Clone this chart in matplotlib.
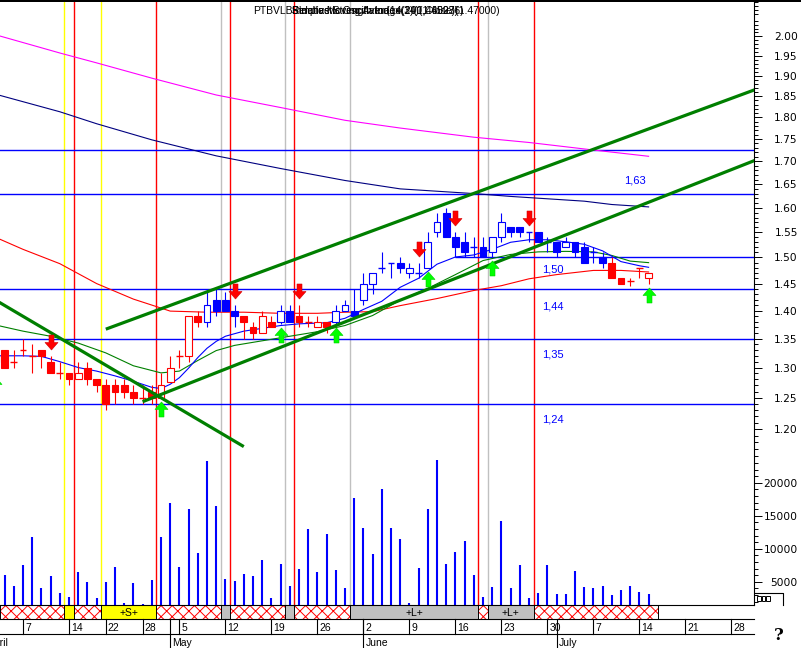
import numpy as np
import matplotlib
matplotlib.use("Agg")
import matplotlib.pyplot as plt
from matplotlib.patches import Rectangle
from matplotlib.path import Path
from matplotlib.lines import Line2D
from matplotlib import transforms as mtrans
from matplotlib.ticker import FixedLocator, FuncFormatter, NullFormatter

plt.rcParams['font.family'] = ['Liberation Sans', 'DejaVu Sans']
plt.rcParams['hatch.linewidth'] = 0.7

# ---------------------------------------------------------------- data
day_index = list(range(-3, 69))
opens = [1.32, 1.33, 1.31, 1.33, 1.32, 1.33, 1.31, 1.29, 1.29, 1.28, 1.30, 1.28,
         1.27, 1.27, 1.27, 1.26, 1.25, 1.26, 1.25, 1.275, 1.32, 1.32, 1.39, 1.38,
         1.42, 1.42, 1.40, 1.39, 1.37, 1.36, 1.38, 1.38, 1.40, 1.39, 1.38, 1.37,
         1.38, 1.38, 1.40, 1.40, 1.42, 1.45, 1.48, 1.49, 1.49, 1.47, 1.47, 1.48,
         1.55, 1.59, 1.54, 1.53, 1.52, 1.52, 1.51, 1.54, 1.56, 1.56, 1.55, 1.55,
         1.53, 1.53, 1.52, 1.53, 1.52, 1.51, 1.50, 1.49, 1.46, 1.455, 1.48, 1.46]
highs = [1.33, 1.33, 1.33, 1.35, 1.34, 1.33, 1.32, 1.31, 1.29, 1.31, 1.31, 1.28,
         1.28, 1.28, 1.28, 1.27, 1.27, 1.27, 1.29, 1.32, 1.33, 1.39, 1.40, 1.44,
         1.44, 1.435, 1.41, 1.39, 1.38, 1.40, 1.39, 1.41, 1.41, 1.41, 1.39, 1.39,
         1.38, 1.41, 1.42, 1.44, 1.47, 1.47, 1.51, 1.49, 1.50, 1.49, 1.49, 1.55,
         1.59, 1.60, 1.55, 1.55, 1.54, 1.54, 1.54, 1.59, 1.56, 1.56, 1.55, 1.55,
         1.54, 1.53, 1.54, 1.53, 1.53, 1.52, 1.51, 1.50, 1.46, 1.46, 1.48, 1.47]
lows = [1.29, 1.30, 1.30, 1.32, 1.29, 1.30, 1.29, 1.28, 1.27, 1.28, 1.27, 1.26,
        1.23, 1.24, 1.25, 1.24, 1.24, 1.24, 1.25, 1.275, 1.30, 1.31, 1.37, 1.37,
        1.39, 1.40, 1.37, 1.35, 1.35, 1.36, 1.37, 1.375, 1.38, 1.37, 1.37, 1.37,
        1.36, 1.375, 1.40, 1.39, 1.41, 1.43, 1.47, 1.46, 1.47, 1.46, 1.46, 1.48,
        1.54, 1.54, 1.50, 1.50, 1.50, 1.50, 1.50, 1.53, 1.54, 1.54, 1.53, 1.53,
        1.51, 1.50, 1.52, 1.50, 1.49, 1.49, 1.48, 1.46, 1.45, 1.445, 1.46, 1.45]
closes = [1.31, 1.30, 1.31, 1.33, 1.32, 1.32, 1.29, 1.29, 1.28, 1.29, 1.28, 1.27,
          1.24, 1.26, 1.26, 1.25, 1.25, 1.25, 1.27, 1.30, 1.32, 1.39, 1.38, 1.41,
          1.40, 1.40, 1.39, 1.38, 1.36, 1.39, 1.37, 1.40, 1.38, 1.38, 1.38, 1.38,
          1.37, 1.40, 1.41, 1.39, 1.45, 1.47, 1.48, 1.49, 1.48, 1.48, 1.47, 1.53,
          1.57, 1.54, 1.52, 1.51, 1.52, 1.50, 1.54, 1.57, 1.55, 1.55, 1.55, 1.53,
          1.53, 1.51, 1.53, 1.51, 1.49, 1.51, 1.49, 1.46, 1.45, 1.455, 1.48, 1.47]
candle_side = (['r'] * 23 + ['b'] * 4 + ['r'] * 4 + ['b'] * 2 + ['r'] * 4 +
               ['b'] * 30 + ['r'] * 5)
volumes = [5000, 6000, 4400, 7500, 11800, 4100, 5800, 3300, 2700, 6500, 5000, 2600,
           5000, 7200, 1800, 4800, 1600, 5200, 11700, 16900, 7200, 16000, 9400, 23300,
           16500, 5400, 5100, 6100, 5900, 8300, 2600, 7700, 4400, 7000, 13000, 6500,
           12200, 6800, 4100, 17700, 13200, 9200, 19000, 13200, 11400, 1700, 7100, 16000,
           23400, 7700, 9500, 11200, 6000, 2700, 4200, 14200, 4000, 7500, 2500, 3300,
           7500, 3200, 3200, 6600, 4200, 4000, 4300, 3000, 3700, 4300, 3400, 3100]

ma_magenta_idx = [-3, 4, 8, 14, 21, 28, 35, 41, 49, 55, 62, 68]
ma_magenta = [2.004, 1.957, 1.932, 1.894, 1.853, 1.823, 1.793, 1.775, 1.754, 1.742, 1.725, 1.711]
ma_navy_idx = [-3, 4, 8, 14, 21, 28, 35, 41, 45, 49, 53, 57, 61, 64, 68]
ma_navy = [1.855, 1.813, 1.785, 1.748, 1.712, 1.684, 1.658, 1.640, 1.635, 1.630, 1.624,
           1.619, 1.614, 1.607, 1.602]
ma_red_idx = [-3, 0, 4, 8, 12, 14, 16, 20, 24, 28, 32, 35, 38, 41, 45, 49, 52, 55, 58, 62, 65, 68]
ma_red = [1.540, 1.516, 1.488, 1.450, 1.421, 1.410, 1.399, 1.397, 1.397, 1.395, 1.395,
          1.397, 1.398, 1.409, 1.422, 1.437, 1.446, 1.459, 1.467, 1.475, 1.475, 1.472]
ma_blue_idx = [-3, 0, 2, 4, 6, 8, 10, 12, 14, 15, 16, 17, 18, 19, 20, 21, 22, 24, 26, 28,
               30, 33, 35, 37, 39, 41, 43, 45, 47, 49, 51, 53, 55, 57, 59, 61, 63, 65, 67, 68]
ma_blue = [1.320, 1.320, 1.319, 1.310, 1.300, 1.294, 1.286, 1.277, 1.267, 1.265, 1.272,
           1.283, 1.299, 1.317, 1.333, 1.345, 1.354, 1.363, 1.368, 1.373, 1.376, 1.378,
           1.386, 1.402, 1.417, 1.443, 1.460, 1.487, 1.501, 1.505, 1.516, 1.530, 1.535,
           1.535, 1.531, 1.526, 1.513, 1.492, 1.484, 1.481]
ma_green_idx = [-3, 0, 3, 6, 9, 12, 15, 17, 19, 21, 23, 26, 29, 32, 35, 38, 41, 44, 47,
                50, 53, 56, 59, 62, 64, 66, 68]
ma_green = [1.374, 1.363, 1.354, 1.342, 1.325, 1.303, 1.291, 1.294, 1.312, 1.329, 1.338,
            1.346, 1.354, 1.362, 1.373, 1.391, 1.419, 1.441, 1.467, 1.494, 1.506, 1.511,
            1.512, 1.511, 1.504, 1.493, 1.490]

trend_down_idx = [-3, 24]
trend_down = [1.4193, 1.1730]
trend_up_hi_idx = [9, 80]
trend_up_hi = [1.3665, 1.8694]
trend_up_lo_idx = [13, 80]
trend_up_lo = [1.2435, 1.7055]

levels = [1.725, 1.63, 1.50, 1.44, 1.35, 1.24]
level_start = [-3, -3, 47, -3, -3, -3]
level_labels = ['', '1,63', '1,50', '1,44', '1,35', '1,24']

sell_idx = [3, 23, 30, 43, 47, 55]
buy_idx = [-3, 15, 28, 34, 44, 51, 68]

yellow_lines = [4.5, 8.5]
red_lines = [5.5, 14.5, 22.5, 29.5, 49.5, 55.5]
gray_lines = [21.5, 28.5, 35.5, 50.5]

band_start = [-3, 4.5, 5.5, 8.5, 14.5, 21.5, 22.5, 28.5, 29.5, 35.5, 49.5, 50.5, 55.5]
band_end = [4.5, 5.5, 8.5, 14.5, 21.5, 22.5, 28.5, 29.5, 35.5, 49.5, 50.5, 55.5, 69]
band_kind = ['h', 'y', 'h', 'y', 'h', 'g', 'h', 'g', 'h', 'g', 'h', 'g', 'h']
band_text = ['', '', '', '+S+', '', '', '', '', '', '+L+', '', '+L+', '']

week_idx = [0, 5, 9, 13, 17, 22, 27, 32, 37, 42, 47, 52, 57, 62, 67, 72, 77]
week_labels = ['7', '14', '22', '28', '5', '12', '19', '26', '2', '9', '16', '23',
               '30', '7', '14', '21', '28']
month_idx = [-4, 16, 37, 58]
month_labels = ['April', 'May', 'June', 'July']

price_major = [1.20, 1.25, 1.30, 1.35, 1.40, 1.45, 1.50, 1.55, 1.60, 1.65, 1.70,
               1.75, 1.80, 1.85, 1.90, 1.95, 2.00]
vol_major = [5000, 10000, 15000, 20000]

title_main = 'PTBVLB3'
title_overlays = ['Relative Strength Index(14)(1.45936)',
                  'Stochastic Oscillator(14,3)(1,46027)',
                  'Simple Moving Average(200,Close)(1.47000)']

# ---------------------------------------------------------------- layout
W, H = 801, 648
fig = plt.figure(figsize=(W / 100, H / 100), dpi=100)
fig.patch.set_facecolor('white')
PX = mtrans.Affine2D().scale(1, -1).translate(0, H)


def frac(x0, y0, x1, y1):
    return [x0 / W, 1 - y1 / H, (x1 - x0) / W, (y1 - y0) / H]


X0, XD = 23.0, 9.2
AL, AR, AT, AB = 0, 754, 2, 605
xlim = ((AL - X0) / XD, (AR - X0) / XD)

RED, BLUE = '#FF0000', '#0000FF'

# volume axes (bottom layer)
axv = fig.add_axes(frac(AL, AT, AR, AB))
axv.set_xlim(xlim)
VZ, VS = 614.7, 0.0066
vlo = (VZ - AB) / VS
axv.set_ylim(vlo, (VZ - AT) / VS)
for s in axv.spines.values():
    s.set_visible(False)
axv.tick_params(axis='x', which='both', bottom=False, labelbottom=False)
axv.yaxis.tick_right()
axv.yaxis.set_major_locator(FixedLocator(vol_major))
axv.yaxis.set_minor_locator(FixedLocator([v for v in range(2000, 24001, 1000) if v not in vol_major]))
axv.yaxis.set_major_formatter(FuncFormatter(lambda v, p: '%d' % v))
axv.yaxis.set_minor_formatter(NullFormatter())
axv.tick_params(axis='y', which='major', length=5.5, width=0.7, pad=26, labelsize=7.7,
                direction='out')
axv.tick_params(axis='y', which='minor', length=3, width=0.7, direction='out')
for lab in axv.get_yticklabels():
    lab.set_horizontalalignment('right')
    lab.set_fontfamily('DejaVu Sans')

for x in yellow_lines:
    axv.axvline(x, color='#FFFF00', lw=1.0, zorder=1)
for x in red_lines:
    axv.axvline(x, color=RED, lw=1.0, zorder=1)
for x in gray_lines:
    axv.axvline(x, color='#C0C0C0', lw=1.0, zorder=1)

axv.vlines(day_index, vlo, volumes, colors=BLUE, lw=1.5, zorder=2)

# price axes (on top)
ax = fig.add_axes(frac(AL, AT, AR, AB), sharex=axv)
ax.patch.set_alpha(0)
ax.set_yscale('log')
Y0, PPL = 569.3, 769.0
ax.set_ylim(np.exp((Y0 - AB) / PPL), np.exp((Y0 - AT) / PPL))
ax.set_xlim(xlim)
for k, s in ax.spines.items():
    s.set_visible(k == 'right')
ax.spines['right'].set_linewidth(0.8)
ax.tick_params(axis='x', which='both', bottom=False, labelbottom=False)
ax.yaxis.tick_right()
ax.yaxis.set_major_locator(FixedLocator(price_major))
pmin = [round(v, 2) for v in np.arange(1.17, 2.095, 0.01)]
ax.yaxis.set_minor_locator(FixedLocator([v for v in pmin if round(v * 100) % 5 != 0]))
ax.yaxis.set_major_formatter(FuncFormatter(lambda v, p: '%.2f' % v))
ax.yaxis.set_minor_formatter(NullFormatter())
ax.tick_params(axis='y', which='major', length=5.5, width=0.7, pad=26, labelsize=7.7,
               direction='out')
ax.tick_params(axis='y', which='minor', length=3, width=0.7, direction='out')
for lab in ax.get_yticklabels():
    lab.set_horizontalalignment('right')
    lab.set_fontfamily('DejaVu Sans')

# horizontal levels
for lv, st in zip(levels, level_start):
    ax.hlines(lv, st, xlim[1] + 1, colors=BLUE, lw=1.0, zorder=2)
label_pos = {'1,63': (65.3, 13), '1,50': (56.4, -12), '1,44': (56.4, -18),
             '1,35': (56.4, -16), '1,24': (56.4, -16)}
for lv, lab in zip(levels, level_labels):
    if lab:
        xi, dy = label_pos[lab]
        ax.annotate(lab, xy=(xi, lv), xytext=(0, dy), textcoords='offset pixels',
                    color=BLUE, fontsize=8, ha='left', va='center')

# moving averages
ax.plot(ma_magenta_idx, ma_magenta, color='#FF00FF', lw=0.8, zorder=3)
ax.plot(ma_navy_idx, ma_navy, color='#000080', lw=0.8, zorder=3)
ax.plot(ma_red_idx, ma_red, color=RED, lw=0.8, zorder=3)
ax.plot(ma_green_idx, ma_green, color='#008000', lw=0.8, zorder=3)
ax.plot(ma_blue_idx, ma_blue, color=BLUE, lw=0.8, zorder=3)

# candles
BH = 0.38
for i, o, h, l, c, sd in zip(day_index, opens, highs, lows, closes, candle_side):
    col = RED if sd == 'r' else BLUE
    ax.vlines(i, l, h, colors=col, lw=0.8, zorder=4)
    if abs(c - o) < 1e-9:
        ax.hlines(o, i - BH, i + BH, colors=col, lw=1.0, zorder=5)
    else:
        lo, hi = min(o, c), max(o, c)
        face = col if c < o else 'white'
        ax.add_patch(Rectangle((i - BH, lo), 2 * BH, hi - lo, facecolor=face,
                               edgecolor=col, lw=0.8, zorder=5))

# trend lines
for xs, ys in [(trend_down_idx, trend_down), (trend_up_hi_idx, trend_up_hi),
               (trend_up_lo_idx, trend_up_lo)]:
    ax.plot(xs, ys, color='#007F00', lw=2.3, zorder=6, solid_capstyle='butt')

# signal arrows
down_v = [(-2.5, 7.5), (2.5, 7.5), (2.5, 0), (6.5, 0), (0, -7.5), (-6.5, 0), (-2.5, 0), (-2.5, 7.5)]
up_v = [(x, -y) for x, y in down_v]
down_m = Path(down_v, closed=True)
up_m = Path(up_v, closed=True)
hi_map = dict(zip(day_index, highs))
lo_map = dict(zip(day_index, lows))
ax.plot(sell_idx, [hi_map[i] for i in sell_idx], ls='none', marker=down_m, markersize=10.8,
        markerfacecolor=RED, markeredgecolor='#D00000', markeredgewidth=0.4, zorder=7,
        transform=mtrans.offset_copy(ax.transData, fig=fig, y=14, units='dots'), clip_on=True)
ax.plot(buy_idx, [lo_map[i] for i in buy_idx], ls='none', marker=up_m, markersize=10.8,
        markerfacecolor='#00FF00', markeredgecolor='#00D000', markeredgewidth=0.4, zorder=7,
        transform=mtrans.offset_copy(ax.transData, fig=fig, y=-11, units='dots'), clip_on=True)

# ---------------------------------------------------------------- bottom strip & dates
blend = mtrans.blended_transform_factory(ax.transData, PX)
face_map = {'h': 'white', 'y': '#FFFF00', 'g': '#C0C0C0'}
for s0, s1, kd, tx in zip(band_start, band_end, band_kind, band_text):
    s0c = max(s0, xlim[0])
    r = Rectangle((s0c, 605), s1 - s0c, 14, transform=blend, facecolor=face_map[kd],
                  edgecolor=RED if kd == 'h' else 'black', lw=0,
                  hatch='xxx' if kd == 'h' else None)
    fig.add_artist(r)
    fig.add_artist(Rectangle((s0c, 605), s1 - s0c, 14, transform=blend, fill=False,
                             edgecolor='black', lw=0.7))
    if tx:
        fig.text((s0 + s1) / 2, 612.5, tx, transform=blend, ha='center', va='center',
                 fontsize=7.5)

for yy in [605, 619, 634]:
    fig.add_artist(Line2D([AL, AR], [yy, yy], transform=PX, color='black', lw=0.8))

for t, lab in zip(week_idx, week_labels):
    fig.add_artist(Line2D([t, t], [619, 634], transform=blend, color='black', lw=0.8))
    fig.text(t, 631, lab, transform=mtrans.offset_copy(blend, fig=fig, x=2, units='dots'),
             ha='left', va='baseline', fontsize=7.5)
for t, lab in zip(month_idx, month_labels):
    fig.add_artist(Line2D([t, t], [619, 648], transform=blend, color='black', lw=0.8))
    fig.text(t, 645.5, lab, transform=mtrans.offset_copy(blend, fig=fig, x=2, units='dots'),
             ha='left', va='baseline', fontsize=7.5)

# top bar, title, misc
fig.add_artist(Rectangle((0, 0), W, 2, transform=PX, facecolor='black', lw=0))
fig.text(253, 11, title_main, transform=PX, ha='left', va='center', fontsize=7.5)
for s in title_overlays:
    fig.text(292, 11, s, transform=PX, ha='left', va='center', fontsize=7.5)

fig.add_artist(Line2D([755, 783, 783], [593, 593, 605], transform=PX, color='black', lw=0.8))
for bx in [757, 761.5, 766]:
    fig.add_artist(Rectangle((bx, 595.5), 3.5, 5, transform=PX, fill=False,
                             edgecolor='black', lw=0.7))
fig.text(779, 635, '?', transform=PX, ha='center', va='center', fontsize=12,
         fontweight='bold', family='DejaVu Serif')

fig.savefig('out.png', dpi=100, facecolor='white')
